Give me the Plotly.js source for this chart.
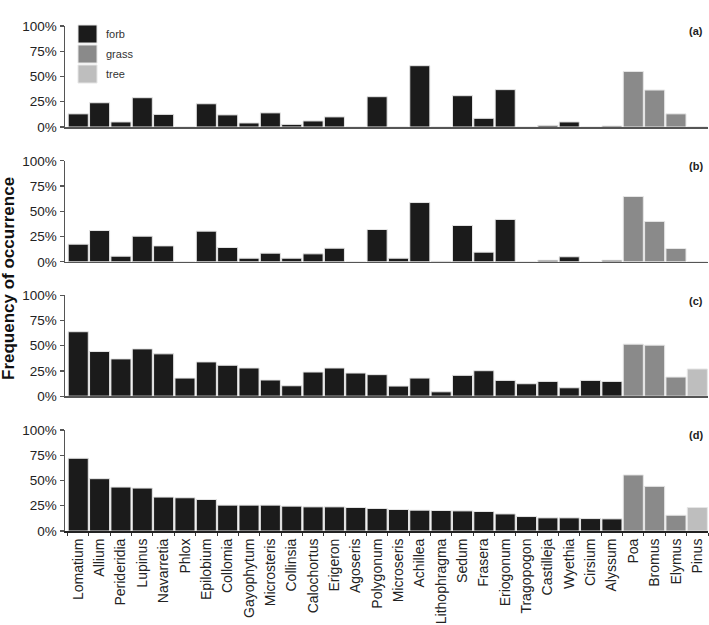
<!DOCTYPE html>
<html>
<head>
<meta charset="utf-8">
<script src="https://cdn.plot.ly/plotly-3.0.1.min.js"></script>
<style>html,body{margin:0;padding:0;background:#fff;}#chart{width:709px;height:625px;}</style>
</head>
<body>
<div id="chart"></div>
<script>
const categories = ["Lomatium","Allium","Perideridia","Lupinus","Navarretia","Phlox","Epilobium","Collomia","Gayophytum","Microsteris","Collinsia","Calochortus","Erigeron","Agoseris","Polygonum","Microseris","Achillea","Lithophragma","Sedum","Frasera","Eriogonum","Tragopogon","Castilleja","Wyethia","Cirsium","Alyssum","Poa","Bromus","Elymus","Pinus"];
const types = ["forb","forb","forb","forb","forb","forb","forb","forb","forb","forb","forb","forb","forb","forb","forb","forb","forb","forb","forb","forb","forb","forb","forb","forb","forb","forb","grass","grass","grass","tree"];
const panelA = [0.13,0.24,0.05,0.29,0.125,0,0.23,0.12,0.04,0.14,0.026,0.06,0.10,0,0.30,0,0.607,0,0.31,0.086,0.37,0,0.016,0.05,0,0.01,0.55,0.366,0.13,0];
const panelB = [0.175,0.31,0.056,0.254,0.158,0,0.304,0.142,0.036,0.086,0.036,0.079,0.135,0,0.32,0.036,0.587,0.005,0.36,0.096,0.42,0,0.016,0.05,0,0.016,0.647,0.40,0.132,0];
const panelC = [0.638,0.442,0.369,0.468,0.419,0.179,0.339,0.306,0.279,0.16,0.103,0.239,0.279,0.229,0.213,0.10,0.179,0.043,0.206,0.252,0.156,0.123,0.146,0.083,0.156,0.146,0.515,0.505,0.189,0.269];
const panelD = [0.72,0.518,0.435,0.425,0.336,0.329,0.312,0.256,0.256,0.256,0.246,0.239,0.239,0.233,0.223,0.213,0.206,0.203,0.199,0.193,0.169,0.143,0.13,0.13,0.123,0.12,0.555,0.442,0.156,0.233];
const panelLabels = ["(a)","(b)","(c)","(d)"];
const legendTypes = ["forb","grass","tree"];
const yTickVals = [0,0.25,0.5,0.75,1];
const yTickText = ["0%","25%","50%","75%","100%"];

const typeColors = {forb:"#1b1b1b", grass:"#8a8a8a", tree:"#bebebe"};
const panels = [panelA, panelB, panelC, panelD];
const domains = [[0.8,1.0],[0.533,0.733],[0.267,0.467],[0,0.2]];

const data = panels.map((vals, i) => ({
  type: "bar",
  x: categories,
  y: vals,
  xaxis: i === 0 ? "x" : "x" + (i + 1),
  yaxis: i === 0 ? "y" : "y" + (i + 1),
  marker: {color: types.map(t => typeColors[t]), line: {color: "#e6e6e6", width: 1}},
  showlegend: false,
  hoverinfo: "x+y"
}));

const layout = {
  width: 709, height: 625,
  margin: {l: 65, r: 1, t: 26, b: 94},
  paper_bgcolor: "#fff", plot_bgcolor: "#fff",
  bargap: 0.06,
  font: {family: "Liberation Sans, Arial, sans-serif", color: "#222"},
  shapes: [], annotations: []
};

domains.forEach((d, i) => {
  const xk = i === 0 ? "xaxis" : "xaxis" + (i + 1);
  const yk = i === 0 ? "yaxis" : "yaxis" + (i + 1);
  const yref = i === 0 ? "y" : "y" + (i + 1);
  const bottom = i === 3;
  layout[xk] = {
    anchor: yref,
    type: "category",
    categoryorder: "array", categoryarray: categories,
    range: [-0.62, 29.5],
    showline: true, linecolor: bottom ? "#222" : "#555", linewidth: bottom ? 2 : 1.5,
    ticks: bottom ? "outside" : "",
    tickson: "boundaries", ticklen: 3, tickwidth: 1, tickcolor: "#333",
    showticklabels: bottom,
    tickangle: -90,
    tickfont: {size: 14, color: "#222"},
    showgrid: false, zeroline: false,
    fixedrange: true
  };
  if (i > 0) layout[xk].matches = "x";
  layout[yk] = {
    domain: d,
    anchor: i === 0 ? "x" : "x" + (i + 1),
    range: [0, 1],
    tickvals: yTickVals, ticktext: yTickText,
    showline: true, linecolor: "#555", linewidth: 1.5,
    ticks: "outside", ticklen: 4, tickwidth: 1.2, tickcolor: "#555",
    tickfont: {size: 13.5, color: "#222"},
    showgrid: false, zeroline: false,
    fixedrange: true
  };
  layout.annotations.push({
    xref: "paper", yref: "paper",
    x: 0.995, y: d[1] + 0.005,
    xanchor: "right", yanchor: "top",
    text: "<b>" + panelLabels[i] + "</b>",
    showarrow: false,
    font: {size: 11, color: "#222"}
  });
});

// legend in panel (a)
legendTypes.forEach((t, k) => {
  const top = 25 + k * 20;
  layout.shapes.push({
    type: "rect", xref: "paper", yref: "paper",
    x0: (78 - 65) / 643, x1: (97 - 65) / 643,
    y0: (531 - (top + 18)) / 505, y1: (531 - top) / 505,
    fillcolor: typeColors[t], line: {color: "#e6e6e6", width: 1}
  });
  layout.annotations.push({
    xref: "paper", yref: "paper",
    x: (104 - 65) / 643, y: (531 - (top + 9)) / 505,
    xanchor: "left", yanchor: "middle",
    text: t, showarrow: false,
    font: {size: 11, color: "#333"}
  });
});

// shared y title
layout.annotations.push({
  xref: "paper", yref: "paper",
  x: (8 - 65) / 643, y: (531 - 279) / 505, xanchor: "center", yanchor: "middle",
  textangle: -90, showarrow: false,
  text: "<b>Frequency of occurrence</b>",
  font: {size: 17, color: "#111"}
});

Plotly.newPlot("chart", data, layout, {displayModeBar: false, staticPlot: true});
</script>
</body>
</html>
